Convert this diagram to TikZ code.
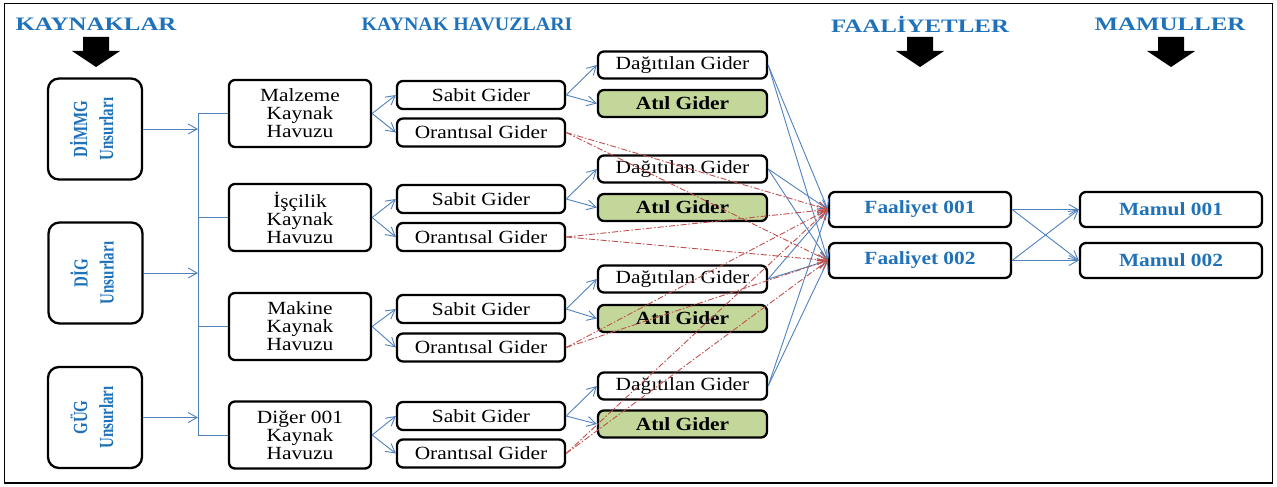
\documentclass[tikz,border=0pt]{standalone}
\usepackage{fontspec}
\setmainfont{Liberation Serif}[FakeStretch=1.15]
\newfontfamily\headfont{Liberation Serif}[FakeStretch=1.31]
\newfontfamily\condfont{Liberation Serif}[FakeStretch=0.75]
\usetikzlibrary{arrows.meta}
\definecolor{hblue}{RGB}{31,114,186}
\definecolor{lblue}{RGB}{79,129,189}
\definecolor{lred}{RGB}{192,80,77}
\definecolor{atil}{RGB}{196,215,155}
\tikzset{
 box/.style={draw=black, line width=2.3pt, rounded corners=6pt, fill=white, inner sep=0pt, font=\fontsize{18.6}{18}\selectfont, align=center},
 src/.style={box, rounded corners=11pt, minimum width=94pt, minimum height=101pt},
 pool/.style={box, minimum width=142pt, minimum height=67pt},
 gbox/.style={box, minimum width=168pt, minimum height=28pt},
 cbox/.style={box, minimum width=169pt, minimum height=27pt},
 atilbox/.style={cbox, fill=atil, font=\fontsize{18.6}{18}\selectfont\bfseries},
 fbox/.style={box, minimum width=182pt, minimum height=35pt, font=\fontsize{18.6}{18}\selectfont\bfseries, text=hblue},
 head/.style={font=\headfont\fontsize{19}{19}\selectfont\bfseries, text=hblue, inner sep=0pt},
 bl/.style={draw=lblue, line width=0.9pt, -{Straight Barb[length=9pt,width=10pt]}},
 bln/.style={draw=lblue, line width=0.9pt},
 rd/.style={draw=lred, line width=0.9pt, dash pattern=on 6pt off 2pt on 1.5pt off 2pt, -{Straight Barb[length=9pt,width=10pt]}},
 downarrow/.pic={\fill[black] (-13,0) -- (13,0) -- (13,14) -- (24,14) -- (0,30) -- (-24,14) -- (-13,14) -- cycle;},
 srctext/.style={},
}
\newcommand{\srclabel}[1]{\rotatebox{90}{\condfont\fontsize{20}{26}\selectfont\bfseries\color{hblue}\begin{tabular}{@{}c@{}}#1\\Unsurları\end{tabular}}}
\begin{document}
\begin{tikzpicture}[x=1pt,y=-1pt]
\useasboundingbox (0,0) rectangle (1277,487);
\draw[line width=1.3pt] (4.5,3.5) rectangle (1272.5,483);

% headings
\node[head] (h1) at (96,24) {KAYNAKLAR};
\node[head] (h2) at (467,24) {\scalebox{0.8}[1]{KAYNAK HAVUZLARI}};
\node[head] (h3) at (920,24) {FAALİYETLER};
\node[head] (h4) at (1170,24) {MAMULLER};
\pic at (96,37) {downarrow};
\pic at (920,37) {downarrow};
\pic at (1171,37) {downarrow};

% sources
\node[src] (s1) at (95,129) {\srclabel{DİMMG}};
\node[src] (s2) at (95.5,273) {\srclabel{DİG}};
\node[src] (s3) at (95,417.5) {\srclabel{GÜG}};

% activities and products
\node[fbox] (f1) at (920,209.5) {Faaliyet 001};
\node[fbox] (f2) at (920,260.5) {Faaliyet 002};
\node[fbox] (m1) at (1171,209.5) {Mamul 001};
\node[fbox] (m2) at (1171,260.5) {Mamul 002};

% pools and cost boxes
\foreach \i/\yp/\yd/\ys/\ya/\yo/\nm in {1/113.5/65/95/103.5/132.5/{Malzeme},2/217.5/169/199/207.5/237/{İşçilik},3/326.5/279/309/318.5/347.5/{Makine},4/435/386/416/424/453.5/{Diğer 001}}{
  \node[pool] (p\i) at (300,\yp) {\nm\\Kaynak\\Havuzu};
  \node[gbox] (sb\i) at (481,\ys) {Sabit Gider};
  \node[gbox] (or\i) at (481,\yo) {Orantısal Gider};
  \node[cbox] (dg\i) at (682.5,\yd) {Dağıtılan Gider};
  \node[atilbox] (at\i) at (682.5,\ya) {Atıl Gider};
}

% bus
\coordinate (bt) at (198,114);
\draw[bln] (p1.west -| bt) -- (p4.west -| bt);
\foreach \i in {1,2,3,4}{\draw[bln] (p\i.west -| bt) -- (p\i.west);}
\foreach \s in {s1,s2,s3}{\draw[bl] (\s.east) -- (\s.east -| bt);}

\foreach \i in {1,2,3,4}{
  \draw[bl] (p\i.east) -- (sb\i.west);
  \draw[bl] (p\i.east) -- (or\i.west);
  \draw[bl] (sb\i.east) -- (dg\i.west);
  \draw[bl] (sb\i.east) -- (at\i.west);
  \draw[bl] (dg\i.east) -- (f1.west);
  \draw[bl] (dg\i.east) -- (f2.west);
}
\foreach \i in {1,2,3,4}{
  \draw[rd] (or\i.east) -- (f1.west);
  \draw[rd] (or\i.east) -- (f2.west);
}
\draw[bl] (f1.east) -- (m1.west);
\draw[bl] (f1.east) -- (m2.west);
\draw[bl] (f2.east) -- (m1.west);
\draw[bl] (f2.east) -- (m2.west);
\end{tikzpicture}
\end{document}
